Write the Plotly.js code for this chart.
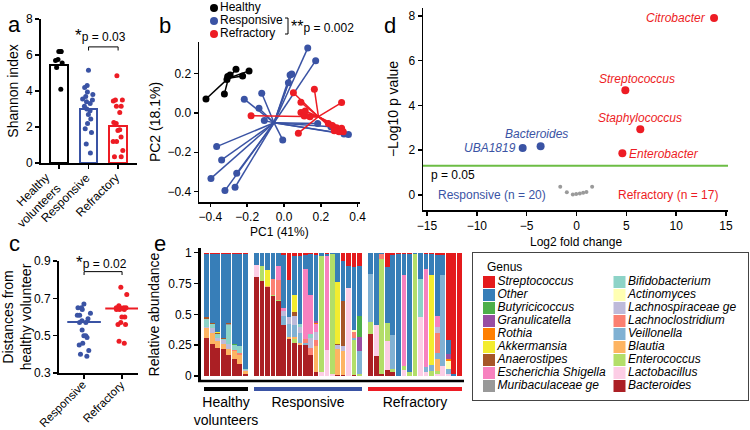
<!DOCTYPE html>
<html>
<head>
<meta charset="utf-8">
<script src="https://cdn.plot.ly/plotly-3.0.1.min.js"></script>
<style>
  body { margin: 0; background: #fff; }
  #PLOT { width: 750px; height: 430px; }
</style>
</head>
<body>
<div id="PLOT"></div>
<script>
// ---------- data ----------
const shannonGroups = ['Healthy<br>volunteers', 'Responsive', 'Refractory'];
const shannonMean = [5.45, 3.0, 2.07];
const healthyShannon = [6.2, 6.2, 6.2, 5.75, 5.7, 5.55, 5.3, 4.1];
const responsiveShannon = [5.15, 4.3, 4.2, 3.95, 3.8, 3.7, 3.55, 3.5, 3.4, 3.3, 3.15, 3.0, 2.9, 2.7, 2.45, 2.2, 1.9, 1.7, 1.05, 0.55];
const refractoryShannon = [4.85, 3.5, 3.5, 3.45, 3.15, 3.15, 2.8, 2.25, 2.2, 1.85, 1.8, 1.45, 1.2, 1.2, 0.7, 0.35, 0.35];

const distGroups = ['Responsive', 'Refractory'];
const distMedian = [0.573, 0.645];
const responsiveDist = [0.67, 0.65, 0.65, 0.64, 0.62, 0.61, 0.61, 0.59, 0.58, 0.57, 0.57, 0.53, 0.50, 0.50, 0.49, 0.46, 0.45, 0.42, 0.40, 0.39];
const refractoryDist = [0.76, 0.72, 0.66, 0.65, 0.65, 0.65, 0.65, 0.64, 0.64, 0.64, 0.60, 0.60, 0.57, 0.56, 0.56, 0.47, 0.46];

const pcaGroups = ['Healthy', 'Responsive', 'Refractory'];
const healthyPC1 = [-0.424, -0.324, -0.306, -0.293, -0.261, -0.225, -0.190, -0.31];
const healthyPC2 = [0.071, 0.097, 0.185, 0.193, 0.222, 0.188, 0.214, 0.17];
const responsivePC1 = [0.129, 0.172, 0.033, 0.042, 0.024, -0.216, -0.121, -0.136, -0.107, -0.007, 0.183, 0.255, 0.326, 0.35, -0.366, -0.339, -0.397, -0.257, -0.266, -0.321];
const responsivePC2 = [0.33, 0.266, 0.193, 0.198, 0.154, 0.07, 0.10, 0.024, -0.039, -0.137, -0.053, -0.07, -0.107, -0.109, -0.171, -0.239, -0.333, -0.307, -0.378, -0.395];
const refractoryPC1 = [-0.179, 0.051, 0.165, 0.092, 0.313, 0.092, 0.11, 0.141, 0.115, 0.078, 0.241, 0.263, 0.286, 0.313, 0.299, 0.322, 0.273];
const refractoryPC2 = [-0.014, 0.103, 0.121, 0.054, 0.053, 0.002, -0.015, -0.019, 0.01, -0.103, -0.053, -0.064, -0.075, -0.078, -0.095, -0.095, -0.09];
const pcaCentroids = [[-0.302, 0.177], [-0.054, -0.05], [0.187, -0.019]];

const volcanoGenus = ['Citrobacter', 'Streptococcus', 'Staphylococcus', 'Enterobacter', 'Bacteroides', 'UBA1819'];
const volcanoFC = [13.8, 4.9, 6.4, 4.6, -3.6, -5.4];
const volcanoLogP = [7.9, 4.68, 2.94, 1.86, 2.18, 2.1];
const nsFC = [-1.63, -0.97, -0.37, -0.03, 0.33, 0.67, 1.0, 1.57];
const nsLogP = [0.37, 0.12, 0.02, 0.05, 0.07, 0.1, 0.13, 0.37];
const pCutoff = 0.05;

// panel e: samples are 8 healthy, 20 responsive, 17 refractory (in that order)
const sampleGroups = ['Healthy<br>volunteers', 'Responsive', 'Refractory'];
const groupSizes = [8, 20, 17];
// stacking order, bottom to top
const genera = ['Bacteroides', 'Lactobacillus', 'Enterococcus', 'Blautia', 'Veillonella', 'Lachnoclostridium',
  'Lachnospiraceae ge', 'Actinomyces', 'Bifidobacterium', 'Muribaculaceae ge', 'Escherichia Shigella',
  'Anaerostipes', 'Akkermansia', 'Rothia', 'Granulicatella', 'Butyricicoccus', 'Other', 'Streptococcus'];
const bacteroides = [.31,.26,.23,.22,.17,.14,.10,.02, .80,.77,.72,.65,.61,.41,.30,.27,.25,.25,.17,.03,0,0,0,.01,.01,0,.01,0, .34,.16,.02,.05,.03,0,0,0,0,0,0,0,0,0,0,0,0];
const lactobacillus = [0,0,0,0,0,0,0,0, .10,0,0,0,0,0,0,0,0,0,0,0,.03,.21,.02,0,0,.71,0,0, 0,.25,0,.23,0,0,.05,0,0,.48,.03,0,.02,.08,.02,0,0];
const enterococcus = [0,0,0,0,0,0,0,0, 0,.12,0,.01,.01,0,0,.03,0,0,0,0,.94,0,.97,0,0,0,.28,.02, .10,0,.93,.15,.03,0,.03,.03,.99,0,0,.04,.02,0,0,0,0];
const blautia = [.08,.09,.05,.04,.05,.06,.07,.02, 0,0,.01,0,0,0,.02,.02,.02,0,0,.21,0,0,0,.21,.19,0,0,0, 0,0,0,0,0,0,0,0,0,0,0,0,.10,0,0,0,0];
const veillonella = [0,0,0,0,0,0,0,0, 0,0,0,0,0,.08,.10,.09,.08,.02,0,0,0,0,0,0,0,0,.02,.18, .39,0,0,0,.27,0,0,0,0,0,.04,.05,.05,.74,.04,0,0];
const lachnoclostridium = [0,0,0,0,0,.01,.02,0, 0,0,0,.13,.16,0,0,0,0,.03,.06,.05,0,0,0,0,0,0,.05,0, 0,0,.04,0,0,0,0,0,0,0,0,0,.16,0,0,0,0];
const lachnospiraceae = [.01,.04,.03,.03,.04,0,0,.01, 0,0,0,0,0,.04,.06,.08,.05,0,.08,.07,0,0,0,.03,.04,0,0,0, 0,0,0,0,0,0,0,0,0,0,0,0,.05,0,0,0,0];
const actinomyces = [0,0,0,0,0,0,0,0, 0,0,0,0,0,0,0,0,0,0,0,0,0,0,0,0,0,0,.01,0, 0,0,0,0,0,0,0,0,0,0,0,0,0,0,.06,0,0];
const bifidobacterium = [.06,.03,.03,.01,.15,.04,.05,.01, 0,0,0,0,0,0,0,0,.02,0,.03,0,0,0,0,0,0,0,0,0, 0,0,0,0,0,0,0,0,0,.31,0,0,0,0,0,0,0];
const muribaculaceae = [0,0,0,0,.01,0,0,0, 0,0,0,0,0,0,0,0,0,0,0,0,0,0,0,0,0,0,0,0, 0,0,0,0,0,0,0,0,0,0,0,0,0,0,0,0,0];
const escherichia = [0,0,0,0,0,0,0,0, 0,0,0,0,.11,.02,0,0,0,.57,.32,.06,0,.76,0,0,0,0,0,0, 0,0,0,0,0,0,.74,0,0,0,.80,0,.09,0,0,0,0];
const anaerostipes = [.02,.01,.01,.01,.01,0,0,0, 0,0,0,0,0,0,0,.03,0,0,0,0,0,0,0,.01,.37,0,0,0, 0,0,0,0,0,0,0,0,0,0,0,0,0,0,0,0,0];
const akkermansia = [0,0,.01,0,0,0,0,0, 0,0,.13,0,0,0,0,.14,0,0,0,0,0,0,0,.50,0,0,0,0, 0,0,0,0,0,0,0,0,0,0,0,.73,0,0,0,0,0];
const rothia = [0,0,0,0,0,0,0,0, 0,0,0,0,0,0,0,0,0,0,0,.01,0,0,0,0,0,0,0,0, 0,0,0,0,0,0,0,0,0,0,0,0,0,0,.02,0,0];
const granulicatella = [0,0,0,0,0,0,0,0, 0,0,0,0,0,0,0,0,0,0,0,.02,0,0,0,0,0,0,0,.12, 0,0,0,0,0,0,0,0,0,0,0,0,0,0,.04,0,0];
const butyricicoccus = [0,0,0,0,0,.01,0,0, 0,0,0,0,0,0,0,0,0,0,0,0,0,0,0,0,0,0,0,.17, 0,0,0,0,0,0,0,0,0,0,0,0,0,0,0,0,0];
const other = [.51,.56,.63,.68,.56,.73,.75,.93, .10,.11,.14,.21,.11,.43,.30,.31,.55,.11,.33,.53,.03,.02,.01,.24,.32,.18,.51,.40, .17,.59,.01,.45,.65,.99,.17,.96,.01,.21,.12,.17,.49,.16,.11,.02,0];
const streptococcus = [.01,.01,.01,.01,.01,.01,.01,.01, 0,0,0,0,0,.02,.22,.03,.03,.02,.01,.02,0,.01,0,0,.07,.11,.12,.11, 0,0,0,.12,.02,.01,.01,.01,0,0,.01,.01,.02,.02,.71,.98,1.00];
const abundance = [bacteroides, lactobacillus, enterococcus, blautia, veillonella, lachnoclostridium,
  lachnospiraceae, actinomyces, bifidobacterium, muribaculaceae, escherichia, anaerostipes,
  akkermansia, rothia, granulicatella, butyricicoccus, other, streptococcus];

// ---------- styles ----------
const W = 750, H = 430;
const fx = p => p / W;          // pixel -> paper x
const fy = p => 1 - p / H;      // pixel -> paper y
const groupColors = ['#000000', '#3a53a4', '#ed1c24'];
const genusColors = ['#ab1f24', '#fccde5', '#b3de69', '#fdb462', '#80b1d3', '#fb8072', '#bebada', '#ffffb3',
  '#8dd3c7', '#999999', '#f781bf', '#a65628', '#f3ec2f', '#ff7f00', '#984ea3', '#4daf4a', '#377eb8', '#e41a1c'];
const FONT = 'Liberation Sans, Arial, sans-serif';

function axis(extra) {
  return Object.assign({
    showline: true, linecolor: '#000', linewidth: 1.5, mirror: false,
    ticks: 'outside', ticklen: 4, tickwidth: 1.5, tickcolor: '#000',
    showgrid: false, zeroline: false, fixedrange: true, automargin: false,
    tickfont: {size: 12, color: '#000'}
  }, extra);
}

function stripTrace(cat, vals, color, xa, ya, width, jitter, size) {
  return {
    type: 'box', x: vals.map(() => cat), y: vals, boxpoints: 'all', jitter: jitter, pointpos: 0,
    width: width, marker: {color: color, size: size},
    line: {width: 0, color: 'rgba(0,0,0,0)'}, fillcolor: 'rgba(0,0,0,0)',
    xaxis: xa, yaxis: ya, hoverinfo: 'y'
  };
}

function spider(xs, ys, c) {
  const x = [], y = [];
  xs.forEach((v, i) => { x.push(c[0], v, null); y.push(c[1], ys[i], null); });
  return {x, y};
}

const traces = [];

// ---------- panel a ----------
traces.push({
  type: 'bar', x: shannonGroups, y: shannonMean, width: 0.6,
  marker: {color: '#fff', line: {color: groupColors, width: 2}},
  xaxis: 'x', yaxis: 'y', hoverinfo: 'skip'
});
[healthyShannon, responsiveShannon, refractoryShannon].forEach((vals, i) => {
  traces.push(stripTrace(shannonGroups[i], vals, groupColors[i], 'x', 'y', 0.6, 0.7, 5));
});

// ---------- panel b ----------
const pcaX = [healthyPC1, responsivePC1, refractoryPC1];
const pcaY = [healthyPC2, responsivePC2, refractoryPC2];
pcaX.forEach((xs, i) => {
  const s = spider(xs, pcaY[i], pcaCentroids[i]);
  traces.push({type: 'scatter', mode: 'lines', x: s.x, y: s.y, line: {color: groupColors[i], width: 1.5},
    xaxis: 'x2', yaxis: 'y2', hoverinfo: 'skip'});
});
pcaX.forEach((xs, i) => {
  traces.push({type: 'scatter', mode: 'markers', x: xs, y: pcaY[i], name: pcaGroups[i],
    marker: {color: groupColors[i], size: 7}, xaxis: 'x2', yaxis: 'y2'});
});
// legend of panel b (small, tight rows)
traces.push({
  type: 'scatter', mode: 'markers+text', x: [9, 9, 9], y: [8, 21, 34], text: pcaGroups,
  textposition: 'middle right', textfont: {size: 12, color: '#000'}, cliponaxis: false,
  marker: {color: groupColors, size: 8}, xaxis: 'x9', yaxis: 'y9', hoverinfo: 'skip'
});

// ---------- panel c ----------
[responsiveDist, refractoryDist].forEach((vals, i) => {
  traces.push(stripTrace(distGroups[i], vals, groupColors[i + 1], 'x4', 'y4', 0.5, 0.8, 5));
});
traces.push({
  type: 'scatter', mode: 'markers', x: distGroups, y: distMedian,
  marker: {symbol: 'line-ew', size: 24, line: {width: 2, color: groupColors.slice(1)}},
  xaxis: 'x4', yaxis: 'y4', hoverinfo: 'y'
});

// ---------- panel d ----------
traces.push({type: 'scatter', mode: 'markers', x: nsFC, y: nsLogP, marker: {color: '#9a9a9a', size: 4},
  xaxis: 'x3', yaxis: 'y3', hoverinfo: 'x+y'});
traces.push({type: 'scatter', mode: 'markers', x: volcanoFC, y: volcanoLogP, text: volcanoGenus,
  marker: {color: volcanoFC.map(v => v > 0 ? groupColors[2] : groupColors[1]), size: 8},
  xaxis: 'x3', yaxis: 'y3', hoverinfo: 'text'});

// ---------- panel e ----------
const eAxes = ['x5', 'x6', 'x7'];
let start = 0;
groupSizes.forEach((n, g) => {
  const xs = Array.from({length: n}, (_, i) => i);
  abundance.forEach((arr, k) => {
    traces.push({type: 'bar', x: xs, y: arr.slice(start, start + n), name: genera[k],
      marker: {color: genusColors[k], line: {width: 0}}, xaxis: eAxes[g], yaxis: 'y5',
      hoverinfo: 'name+y'});
  });
  start += n;
});
// genus legend: two columns, reversed stacking order
const legX = [], legY = [], legText = [], legColor = [];
for (let j = 0; j < genera.length; j++) {
  const k = genera.length - 1 - j;
  legX.push(j < 9 ? 16 : 146.5);
  legY.push(29 + 13 * (j % 9));
  legText.push('<i>' + genera[k] + '</i>');
  legColor.push(genusColors[k]);
}
traces.push({type: 'scatter', mode: 'markers+text', x: legX, y: legY, text: legText,
  textposition: 'middle right', textfont: {size: 12, color: '#000'}, cliponaxis: false,
  marker: {symbol: 'square', size: 12, color: legColor}, xaxis: 'x8', yaxis: 'y8', hoverinfo: 'skip'});

// ---------- layout ----------
const hidden = {visible: false, fixedrange: true};
const volcanoLabelPos = {
  Citrobacter: {xanchor: 'right', xshift: -6, yshift: 0},
  Streptococcus: {xanchor: 'center', xshift: 12, yshift: 11},
  Staphylococcus: {xanchor: 'center', xshift: 0, yshift: 11},
  Enterobacter: {xanchor: 'left', xshift: 5, yshift: -1},
  Bacteroides: {xanchor: 'center', xshift: -4, yshift: 12},
  UBA1819: {xanchor: 'right', xshift: -5, yshift: 0}
};

const annotations = [];
[['a', 6, 10], ['b', 157, 11], ['c', 7, 243], ['d', 390, 11], ['e', 152, 244]].forEach(l => {
  annotations.push({text: l[0], xref: 'paper', yref: 'paper', x: fx(l[1]), y: fy(l[2]),
    showarrow: false, font: {size: 22, color: '#000'}});
});
// rotated category labels under panels a and c
shannonGroups.forEach((g, i) => {
  annotations.push({text: g, xref: 'x', yref: 'y', x: i, y: 0, textangle: -45, xanchor: 'right', yanchor: 'top',
    xshift: 7, yshift: -5, align: 'right', showarrow: false, font: {size: 12}});
});
distGroups.forEach((g, i) => {
  annotations.push({text: g, xref: 'x4', yref: 'y4', x: i, y: 0.3, textangle: -45, xanchor: 'right', yanchor: 'top',
    xshift: 7, yshift: -3, showarrow: false, font: {size: 11.5}});
});
annotations.push({text: 'PC1 (41%)', xref: 'x2 domain', yref: 'paper', x: 0.5, y: fy(232), yanchor: 'middle',
  showarrow: false, font: {size: 12}});
annotations.push({text: 'Log2 fold change', xref: 'x3 domain', yref: 'paper', x: 0.5, y: fy(242), yanchor: 'middle',
  showarrow: false, font: {size: 12}});
annotations.push({text: '<span style="font-size:17px">*</span>p = 0.03', xref: 'x', yref: 'y', x: 1.4, y: 7.1,
  showarrow: false, font: {size: 12}});
annotations.push({text: '<span style="font-size:17px">*</span>p = 0.02', xref: 'x4', yref: 'y4', x: 0.45, y: 0.89,
  showarrow: false, font: {size: 12}});
annotations.push({text: '<span style="font-size:16px">**</span>p = 0.002', xref: 'x9', yref: 'y9', x: 84, y: 26,
  xanchor: 'left', showarrow: false, font: {size: 12}});
volcanoGenus.forEach((g, i) => {
  const p = volcanoLabelPos[g];
  annotations.push({text: '<i>' + g + '</i>', xref: 'x3', yref: 'y3', x: volcanoFC[i], y: volcanoLogP[i],
    xanchor: p.xanchor, yanchor: 'middle', xshift: p.xshift, yshift: p.yshift, showarrow: false,
    font: {size: 12, color: volcanoFC[i] > 0 ? groupColors[2] : groupColors[1]}});
});
annotations.push({text: 'p = 0.05', xref: 'x3', yref: 'y3', x: -14.8, y: 0.88, xanchor: 'left',
  showarrow: false, font: {size: 12}});
annotations.push({text: 'Responsive (n = 20)', xref: 'x3', yref: 'y3', x: -14.1, y: 0, xanchor: 'left',
  showarrow: false, font: {size: 12, color: groupColors[1]}});
annotations.push({text: 'Refractory (n = 17)', xref: 'x3', yref: 'y3', x: 14.4, y: 0, xanchor: 'right',
  showarrow: false, font: {size: 12, color: groupColors[2]}});
annotations.push({text: 'Genus', xref: 'x8', yref: 'y8', x: 12, y: 14, xanchor: 'left',
  showarrow: false, font: {size: 12}});

const shapes = [
  // panel e baseline
  {type: 'line', xref: 'paper', yref: 'paper', x0: fx(198), x1: fx(464), y0: fy(381), y1: fy(381),
    line: {color: '#000', width: 2.5}},
  // significance threshold in panel d
  {type: 'line', xref: 'x3 domain', yref: 'y3', x0: 0, x1: 1, y0: -Math.log10(pCutoff), y1: -Math.log10(pCutoff),
    line: {color: '#6cbd45', width: 2}, layer: 'below'},
  // brackets
  {type: 'path', xref: 'x', yref: 'y', path: 'M 1 6.25 L 1 6.45 L 2 6.45 L 2 6.25', line: {color: '#000', width: 1}},
  {type: 'path', xref: 'x4', yref: 'y4', path: 'M 0 0.825 L 0 0.843 L 1 0.843 L 1 0.825', line: {color: '#000', width: 1}},
  {type: 'path', xref: 'x9', yref: 'y9', path: 'M 80 18 L 83 18 L 83 34 L 80 34', line: {color: '#000', width: 1}}
];

const layout = {
  width: W, height: H,
  margin: {l: 0, r: 0, t: 0, b: 0},
  paper_bgcolor: '#fff', plot_bgcolor: 'rgba(0,0,0,0)',
  font: {family: FONT, size: 12, color: '#000'},
  showlegend: false, barmode: 'stack', bargap: 0.12, boxmode: 'overlay',
  // a
  xaxis: axis({domain: [fx(41), fx(137)], anchor: 'y', type: 'category', categoryorder: 'array',
    categoryarray: shannonGroups, range: [-0.61, 2.64], linewidth: 2, showticklabels: false}),
  yaxis: axis({domain: [fy(163), fy(19)], anchor: 'x', range: [0, 8], dtick: 2, linewidth: 2,
    title: {text: 'Shannon index', standoff: 4}}),
  // b
  xaxis2: axis({domain: [fx(199), fx(360)], anchor: 'y2', range: [-0.462, 0.413], dtick: 0.2, tick0: 0,
    tickformat: '.1f', ticklen: 3}),
  yaxis2: axis({domain: [fy(202), fy(42)], anchor: 'x2', range: [-0.453, 0.361], dtick: 0.2, tick0: 0,
    tickformat: '.1f', title: {text: 'PC2 (18.1%)', standoff: 3}}),
  // d
  xaxis3: axis({domain: [fx(423), fx(728)], anchor: 'y3', range: [-15.4, 15.2], dtick: 5, tick0: 0}),
  yaxis3: axis({domain: [fy(210), fy(8)], anchor: 'x3', range: [-0.67, 8.35], dtick: 2, tick0: 0,
    title: {text: '\u2212Log10 p value', standoff: 6}}),
  // c
  xaxis4: axis({domain: [fx(59), fx(138)], anchor: 'y4', type: 'category', categoryorder: 'array',
    categoryarray: distGroups, range: [-0.66, 1.42], linewidth: 2, ticklen: 4, showticklabels: false}),
  yaxis4: axis({domain: [fy(373), fy(261)], anchor: 'x4', range: [0.3, 0.9], dtick: 0.2, tick0: 0.3,
    tickformat: '.1f', linewidth: 2, title: {text: 'Distances from<br>healthy volunteer', standoff: 6}}),
  // e
  yaxis5: axis({domain: [fy(381), fy(248)], anchor: 'free', position: fx(199), range: [-0.0405, 1.038],
    tickvals: [0, 0.25, 0.5, 0.75, 1], ticktext: ['0', '0.25', '0.5', '0.75', '1'], linewidth: 2.5,
    title: {text: 'Relative abundance', standoff: 4}}),
  xaxis5: axis({domain: [fx(204), fx(248)], anchor: 'free', position: fy(389), range: [-0.5, 7.5],
    linewidth: 4, linecolor: groupColors[0], ticks: '', showticklabels: false,
    title: {text: sampleGroups[0], standoff: 6}}),
  xaxis6: axis({domain: [fx(254), fx(362)], anchor: 'free', position: fy(389), range: [-0.5, 19.5],
    linewidth: 4, linecolor: groupColors[1], ticks: '', showticklabels: false,
    title: {text: sampleGroups[1], standoff: 6}}),
  xaxis7: axis({domain: [fx(368), fx(462)], anchor: 'free', position: fy(389), range: [-0.5, 16.5],
    linewidth: 4, linecolor: groupColors[2], ticks: '', showticklabels: false,
    title: {text: sampleGroups[2], standoff: 6}}),
  // genus legend box
  xaxis8: {domain: [fx(473), fx(748)], anchor: 'y8', range: [0, 275], showline: true, mirror: true,
    linecolor: '#444', linewidth: 1, ticks: '', showticklabels: false, showgrid: false, zeroline: false, fixedrange: true},
  yaxis8: {domain: [fy(400), fy(253)], anchor: 'x8', range: [147, 0], showline: true, mirror: true,
    linecolor: '#444', linewidth: 1, ticks: '', showticklabels: false, showgrid: false, zeroline: false, fixedrange: true},
  // panel b legend area
  xaxis9: Object.assign({domain: [fx(205), fx(380)], anchor: 'y9', range: [0, 175]}, hidden),
  yaxis9: Object.assign({domain: [fy(40), fy(0)], anchor: 'x9', range: [40, 0]}, hidden),
  annotations: annotations,
  shapes: shapes
};

Plotly.newPlot(document.getElementById('PLOT'), traces, layout, {displayModeBar: false, staticPlot: true});
</script>
</body>
</html>
